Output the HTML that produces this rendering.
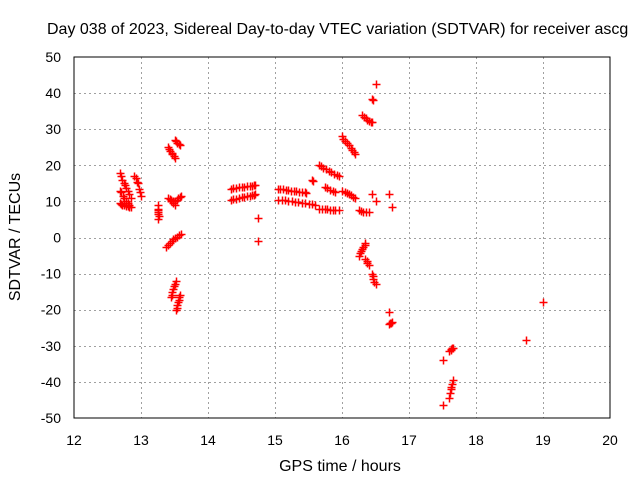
<!DOCTYPE html>
<html><head><meta charset="utf-8"><style>
body{margin:0;background:#fff;}
svg text{font-family:"Liberation Sans",sans-serif;font-size:14px;fill:#000;}
svg text.big{font-size:16px;}
</style></head><body>
<svg id="chart" width="640" height="480" viewBox="0 0 640 480" xmlns="http://www.w3.org/2000/svg">
<rect width="640" height="480" fill="#fff"/>
<text class="big" x="47" y="34">Day 038 of 2023, Sidereal Day-to-day VTEC variation (SDTVAR) for receiver ascg</text>
<text class="big" x="340" y="471" text-anchor="middle">GPS time / hours</text>
<text class="big" transform="translate(20,237) rotate(-90)" text-anchor="middle">SDTVAR / TECUs</text>
<g id="grid"></g>
<g id="ticks"></g>
<g id="pts"></g>
<rect x="74" y="57" width="536" height="361" fill="none" stroke="#000" stroke-width="1"/>
</svg>
<script>
const xTicks=[12,13,14,15,16,17,18,19,20];
const yTicks=[-50,-40,-30,-20,-10,0,10,20,30,40,50];
const xs=[
12.68,12.70,12.72,12.74,12.76,12.78,12.80,12.82,12.85,
12.68,12.70,12.73,12.75,12.78,12.80,12.82,12.85,
12.68,12.70,12.72,12.75,12.78,12.80,12.82,
12.90,12.92,12.94,12.96,12.97,12.99,13.0,
13.25,13.25,13.25,13.26,13.27,13.25,13.26,
13.40,13.42,13.44,13.46,13.47,13.49,13.50,
13.50,13.52,13.54,13.56,13.58,
13.40,13.43,13.45,13.48,13.50,13.53,13.55,13.58,13.60,
13.45,13.48,13.50,
13.38,13.41,13.43,13.46,13.48,13.51,13.54,13.57,13.60,
13.45,13.46,13.47,13.48,13.49,13.50,13.52,
13.52,13.53,13.54,13.55,13.56,13.57,13.58,
14.35,14.38,14.42,14.46,14.50,14.54,14.58,14.62,14.65,14.68,14.70,
14.35,14.38,14.42,14.46,14.50,14.54,14.58,14.62,14.65,14.68,14.70,
14.75,14.75,
15.05,15.08,15.12,15.16,15.20,15.24,15.28,15.32,15.36,15.40,
15.05,15.10,15.15,15.20,15.25,15.30,15.35,15.40,15.45,15.50,15.55,15.60,
15.45,15.47,15.55,15.56,
15.65,15.70,15.74,15.78,15.82,15.86,15.90,15.95,
15.65,15.68,15.72,15.76,15.80,15.84,15.88,15.92,15.95,
15.75,15.78,15.82,15.86,15.90,
16.0,16.04,16.07,16.10,16.14,16.17,16.20,
16.0,16.02,16.05,16.08,16.10,16.13,16.15,16.18,16.20,
16.25,16.28,16.32,16.36,16.40,
16.30,16.33,16.36,16.38,16.41,16.43,16.45,
16.45,16.46,16.50,
16.45,16.50,16.70,16.75,
16.25,16.27,16.28,16.30,16.32,16.34,16.35,
16.35,16.37,16.38,16.40,
16.45,16.46,16.47,16.48,16.50,
16.70,16.70,16.72,16.73,16.75,
17.50,17.50,17.60,17.62,17.63,17.64,17.65,
17.60,17.61,17.62,17.63,17.64,17.65,
18.75,19.0
];
const ys=[
18,17,16,15.2,14.5,13.7,13,12,11,
13,12.5,11.5,11,10,9.5,9,8.5,
9.5,9.3,9,8.9,8.8,8.6,8.5,
17,16.5,15.5,15,13.5,12.5,11.5,
9,8,7,6.5,6,5,7.5,
25,24.5,24,23.5,23,22.5,22,
27,26.6,26.3,25.9,25.5,
11,10.8,10.5,10.2,10,10.5,11,11.2,11.5,
10,9.5,9,
-2.5,-2,-1.5,-1,-0.5,0,0.2,0.6,1,
-16.5,-15.8,-15,-14.3,-13.5,-12.8,-12,
-20,-19.4,-18.7,-18,-17.3,-16.6,-16,
10.5,10.6,10.8,11,11.2,11.3,11.5,11.6,11.8,11.9,12,
13.5,13.6,13.8,13.9,14,14.1,14.2,14.3,14.4,14.5,14.5,
5.5,-1,
13.5,13.4,13.3,13.2,13.1,13,12.9,12.8,12.7,12.5,
10.5,10.4,10.3,10.2,10,9.9,9.8,9.6,9.5,9.3,9.2,9,
12.5,12.3,16,15.7,
8,7.9,7.9,7.8,7.7,7.6,7.5,7.5,
20,19.7,19.3,18.9,18.5,18.1,17.7,17.3,17,
14,13.6,13.2,12.8,12.5,
13,12.7,12.3,12,11.7,11.3,11,
28,27.4,26.7,26.1,25.5,24.8,24.2,23.6,23,
7.5,7.3,7.2,7.1,7,
34,33.5,33,32.6,32.3,32.1,32,
38.5,38,42.5,
12,10,12,8.5,
-5,-4.3,-3.8,-3.2,-2.6,-2,-1.5,
-6,-6.5,-7,-7.5,
-10,-10.8,-11.5,-12.2,-13,
-20.5,-24,-23.8,-23.7,-23.5,
-46.5,-34,-31.5,-31.3,-31,-30.7,-30.5,
-44.5,-43,-42,-41.5,-40.5,-39.5,
-28.5,-18
];
const L=74,R=610,T=57,B=418;
function sx(v){return L+(v-12)/(20-12)*(R-L);}
function sy(v){return B-(v+50)/100*(B-T);}
const NS="http://www.w3.org/2000/svg";
const grid=document.getElementById('grid'),ticks=document.getElementById('ticks'),pts=document.getElementById('pts');
function mk(tag,attrs,parent){const e=document.createElementNS(NS,tag);for(const k in attrs)e.setAttribute(k,attrs[k]);parent.appendChild(e);return e;}
xTicks.forEach(t=>{
  const x=Math.round(sx(t))+0.5;
  if(t>12&&t<20){const g=mk('line',{x1:x,y1:T,x2:x,y2:B,stroke:'#a0a0a0','stroke-dasharray':'2,3'},grid);
  
  }
  const tx=mk('text',{x:sx(t),y:445,'text-anchor':'middle'},ticks);
  tx.textContent=t;
  
  
});
yTicks.forEach(t=>{
  const y=Math.round(sy(t))+0.5;
  if(t>-50&&t<50){const g=mk('line',{x1:L,y1:y,x2:R,y2:y,stroke:'#a0a0a0','stroke-dasharray':'2,3'},grid);
  
  }
  const tx=mk('text',{x:61,y:sy(t)+5,'text-anchor':'end'},ticks);
  tx.textContent=t;
  
  
});
for(let i=0;i<xs.length;i++){
  const x=Math.round(sx(xs[i]))+0.5,y=Math.round(sy(ys[i]))+0.5;
  const p=mk('path',{d:`M${x-4} ${y}H${x+4}M${x} ${y-4}V${y+4}`,stroke:'#f00','stroke-width':1.5,fill:'none'},pts);
  
  
}
</script>
</body></html>
